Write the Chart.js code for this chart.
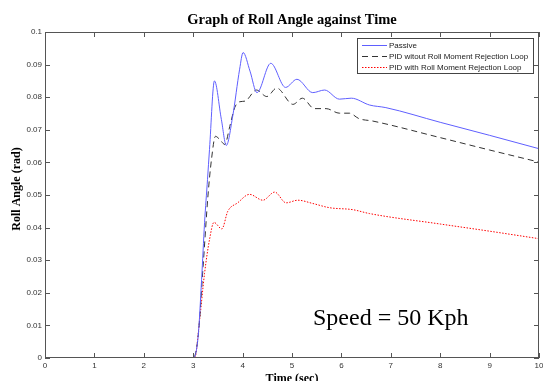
<!DOCTYPE html>
<html>
<head>
<meta charset="utf-8">
<script src="https://cdn.jsdelivr.net/npm/chart.js@4"></script>
<style>
  html, body { margin: 0; padding: 0; background: #fff; }
  canvas { display: block; }
</style>
</head>
<body>
<canvas id="roll-chart" width="543" height="381"></canvas>
<script>
// Values (time in sec, roll angle in rad)
const passiveTime = [0, 3.0, 3.1, 3.17, 3.23, 3.29, 3.33, 3.43, 3.57, 3.67, 3.80, 3.94, 4.01, 4.15, 4.29, 4.57, 4.87, 5.10, 5.42, 5.66, 5.96, 6.2, 6.57, 6.9, 8, 9, 10];
const passiveAngle = [0, 0, 0.0066, 0.024, 0.0415, 0.0548, 0.064, 0.085, 0.0732, 0.0652, 0.0742, 0.0886, 0.0937, 0.088, 0.0814, 0.0904, 0.083, 0.0855, 0.0814, 0.0822, 0.0794, 0.0797, 0.0776, 0.0768, 0.0723, 0.0683, 0.0642];

const pidTime = [0, 3.0, 3.1, 3.2, 3.3, 3.37, 3.45, 3.54, 3.64, 3.74, 3.84, 3.94, 4.05, 4.28, 4.49, 4.69, 5.02, 5.21, 5.45, 5.69, 5.96, 6.16, 6.36, 6.63, 8, 9, 10];
const pidAngle = [0, 0, 0.0066, 0.028, 0.05, 0.0609, 0.068, 0.067, 0.0655, 0.071, 0.0768, 0.0786, 0.0788, 0.0822, 0.0802, 0.0828, 0.0778, 0.0797, 0.0765, 0.0765, 0.0751, 0.0751, 0.0734, 0.0727, 0.0676, 0.0638, 0.0601];

const rmrTime = [0, 3.03, 3.13, 3.23, 3.33, 3.42, 3.58, 3.70, 3.9, 4.14, 4.41, 4.65, 4.88, 5.12, 5.42, 5.76, 6.23, 6.57, 8, 9, 10];
const rmrAngle = [0, 0, 0.0117, 0.026, 0.0363, 0.0416, 0.0396, 0.045, 0.0476, 0.0502, 0.0484, 0.0509, 0.0476, 0.0484, 0.0474, 0.0461, 0.0455, 0.0443, 0.0411, 0.0389, 0.0366];

const seriesLabels = ['Passive', 'PID witout Roll Moment Rejection Loop', 'PID with Roll Moment Rejection Loop'];
const xTicks = [0, 1, 2, 3, 4, 5, 6, 7, 8, 9, 10];
const yTicks = [0, 0.01, 0.02, 0.03, 0.04, 0.05, 0.06, 0.07, 0.08, 0.09, 0.1];

function toPoints(xs, ys) {
    return xs.map((x, i) => ({x: x, y: ys[i]}));
}

const tickFont = {family: '"Liberation Sans", Arial, sans-serif', size: 8};

// Matlab-style frame, inward ticks, legend box and text labels
const matlabFrame = {
    id: 'matlabFrame',
    afterDraw(chart) {
        const c = chart.ctx;
        const a = chart.chartArea;
        const xs = chart.scales.x;
        const ys = chart.scales.y;
        c.save();
        c.strokeStyle = '#555';
        c.lineWidth = 1;
        c.setLineDash([]);
        c.strokeRect(a.left + 0.5, a.top + 0.5, a.right - a.left - 1, a.bottom - a.top - 1);
        c.beginPath();
        xTicks.forEach(v => {
            const px = Math.round(xs.getPixelForValue(v)) + 0.5;
            c.moveTo(px, a.bottom); c.lineTo(px, a.bottom - 5);
            c.moveTo(px, a.top); c.lineTo(px, a.top + 5);
        });
        yTicks.forEach(v => {
            const py = Math.round(ys.getPixelForValue(v)) + 0.5;
            c.moveTo(a.left, py); c.lineTo(a.left + 5, py);
            c.moveTo(a.right, py); c.lineTo(a.right - 5, py);
        });
        c.stroke();

        // legend
        const lx = 357, ly = 38, lw = 176, lh = 35;
        c.fillStyle = '#fff';
        c.fillRect(lx, ly, lw, lh);
        c.strokeStyle = '#444';
        c.strokeRect(lx + 0.5, ly + 0.5, lw, lh);
        c.font = '8px "Liberation Sans", Arial, sans-serif';
        c.textBaseline = 'middle';
        c.textAlign = 'left';
        chart.data.datasets.forEach((ds, i) => {
            const ry = ly + 7 + i * 11;
            c.strokeStyle = ds.borderColor;
            c.setLineDash(ds.borderDash || []);
            c.beginPath();
            c.moveTo(lx + 5, Math.round(ry) + 0.5);
            c.lineTo(lx + 30, Math.round(ry) + 0.5);
            c.stroke();
            c.fillStyle = '#222';
            c.fillText(ds.label, lx + 32, ry + 0.5);
        });
        c.setLineDash([]);

        // title and axis labels
        c.fillStyle = '#000';
        c.textAlign = 'center';
        c.font = 'bold 14.5px "Liberation Serif", "Times New Roman", serif';
        c.fillText('Graph of Roll Angle against Time', 292, 20);
        c.font = 'bold 12px "Liberation Serif", "Times New Roman", serif';
        c.textBaseline = 'top';
        c.fillText('Time (sec)', 292, 373);
        c.save();
        c.translate(17, 189);
        c.rotate(-Math.PI / 2);
        c.textBaseline = 'middle';
        c.fillText('Roll Angle (rad)', 0, 0);
        c.restore();
        c.font = '24px "Liberation Serif", "Times New Roman", serif';
        c.textBaseline = 'alphabetic';
        c.textAlign = 'left';
        c.fillText('Speed = 50 Kph', 313, 325);
        c.restore();
    }
};

new Chart(document.getElementById('roll-chart').getContext('2d'), {
    type: 'line',
    data: {
        datasets: [{
            label: seriesLabels[0],
            data: toPoints(passiveTime, passiveAngle),
            borderColor: 'rgb(95, 95, 255)',
            borderWidth: 1,
            cubicInterpolationMode: 'monotone'
        }, {
            label: seriesLabels[1],
            data: toPoints(pidTime, pidAngle),
            borderColor: '#333',
            borderWidth: 1,
            borderDash: [6, 4],
            cubicInterpolationMode: 'monotone'
        }, {
            label: seriesLabels[2],
            data: toPoints(rmrTime, rmrAngle),
            borderColor: 'rgb(255, 0, 0)',
            borderWidth: 1,
            borderDash: [1.5, 1.5],
            cubicInterpolationMode: 'monotone'
        }]
    },
    options: {
        responsive: false,
        animation: false,
        devicePixelRatio: 1,
        layout: {padding: {top: 32, right: 4, left: 0, bottom: 0}},
        elements: {point: {radius: 0}},
        plugins: {legend: {display: false}, title: {display: false}, tooltip: {enabled: false}},
        scales: {
            x: {
                type: 'linear',
                min: 0,
                max: 10,
                grid: {display: false, drawTicks: false},
                border: {display: false},
                ticks: {stepSize: 1, font: tickFont, color: '#333', padding: 3, maxRotation: 0},
                afterFit(scale) {
                    scale.height = 23;
                    scale.paddingLeft = 0;
                    scale.paddingRight = 0;
                }
            },
            y: {
                min: 0,
                max: 0.1,
                grid: {display: false, drawTicks: false},
                border: {display: false},
                ticks: {
                    stepSize: 0.01,
                    font: tickFont,
                    color: '#333',
                    padding: 3,
                    callback: v => String(Number(v.toFixed(2)))
                },
                afterFit(scale) {
                    scale.width = 45;
                }
            }
        }
    },
    plugins: [matlabFrame]
});
</script>
</body>
</html>
